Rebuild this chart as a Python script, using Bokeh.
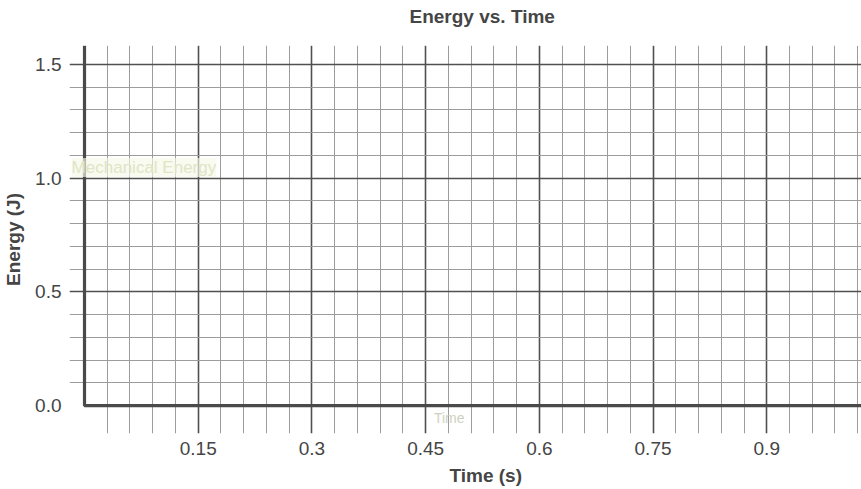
from bokeh.plotting import figure
from bokeh.models import Range1d, FixedTicker, Label, Title, LinearAxis
from bokeh.embed import file_html
from bokeh.resources import INLINE

# ---- chart content ----
title_text = "Energy vs. Time"
x_label = "Time (s)"
y_label = "Energy (J)"
x_ticks = [0.15, 0.3, 0.45, 0.6, 0.75, 0.9]
x_tick_labels = ["0.15", "0.3", "0.45", "0.6", "0.75", "0.9"]
y_ticks = [0.0, 0.5, 1.0, 1.5]
y_tick_labels = ["0.0", "0.5", "1.0", "1.5"]
faint_curve_label = "Mechanical Energy"
faint_axis_note = "Time"

# ---- view window ----
x_start, x_end = -0.0198, 1.025
y_start, y_end = -0.123, 1.583
x_minor_step, y_minor_step = 0.03, 0.1

FONT = "Liberation Sans"
TEXT = "#454545"

p = figure(width=861, height=489, output_backend="svg", toolbar_location=None,
           title=None,
           x_range=Range1d(x_start, x_end), y_range=Range1d(y_start, y_end),
           min_border_left=68, min_border_right=0, min_border_top=45,
           min_border_bottom=56)
p.outline_line_color = None
p.background_fill_color = "white"
p.border_fill_color = "white"

# graph-paper grid
x_major_grid = [t for t in x_ticks]
x_minor_grid = [round(i * x_minor_step, 4) for i in range(1, 35)
                if i % 5 != 0]
y_major_grid = [0.5, 1.0, 1.5]
y_minor_grid = [round(i * y_minor_step, 4) for i in range(1, 15) if i % 5 != 0]

p.xgrid.ticker = FixedTicker(ticks=x_major_grid, minor_ticks=x_minor_grid)
p.xgrid.grid_line_color = "#505050"
p.xgrid.grid_line_width = 1.6
p.xgrid.minor_grid_line_color = "#9c9c9c"
p.xgrid.minor_grid_line_width = 1

p.ygrid.ticker = FixedTicker(ticks=y_major_grid, minor_ticks=y_minor_grid)
p.ygrid.grid_line_color = "#505050"
p.ygrid.grid_line_width = 1.6
p.ygrid.minor_grid_line_color = "#9c9c9c"
p.ygrid.minor_grid_line_width = 1

# axes (labels only)
p.xaxis.ticker = FixedTicker(ticks=x_ticks)
p.xaxis.major_label_overrides = dict(zip(x_ticks, x_tick_labels))
p.yaxis.ticker = FixedTicker(ticks=y_ticks)
p.yaxis.major_label_overrides = dict(zip(y_ticks, y_tick_labels))
for ax in (p.xaxis[0], p.yaxis[0]):
    ax.axis_line_color = None
    ax.major_tick_line_color = None
    ax.minor_tick_line_color = None
    ax.major_tick_in = 0
    ax.major_tick_out = 0
    ax.major_label_standoff = 8
    ax.major_label_text_font = FONT
    ax.major_label_text_font_size = "19px"
    ax.major_label_text_color = TEXT

p.yaxis.axis_label = y_label
p.yaxis.axis_label_text_font = FONT
p.yaxis.axis_label_text_font_size = "19px"
p.yaxis.axis_label_text_font_style = "bold"
p.yaxis.axis_label_text_color = TEXT
p.yaxis.axis_label_standoff = 8

gap_tick = [1.02]  # one tick at the far right edge so the spacer axis has size


def gap(pixels):
    # white, label-less axis used only to reserve a strip of space
    return LinearAxis(ticker=FixedTicker(ticks=gap_tick), major_tick_out=pixels,
                      major_tick_in=0, axis_line_color="white",
                      axis_line_width=0.2, major_tick_line_color="white",
                      minor_tick_line_color=None, major_label_standoff=0,
                      major_label_text_color=None,
                      major_label_text_font_size="1px")


# title, lifted above a small gap next to the frame
p.add_layout(gap(12), "above")
p.add_layout(Title(text=title_text, align="left", offset=340,
                   vertical_align="top", standoff=10,
                   text_font=FONT, text_font_size="19px",
                   text_font_style="bold", text_color=TEXT), "above")

# x label below the axis, shifted right like the reference
p.add_layout(gap(5), "below")
p.add_layout(Title(text=x_label, align="left", offset=380, standoff=0,
                   text_font=FONT, text_font_size="19px",
                   text_font_style="bold", text_color=TEXT), "below")

# heavy L-shaped axes through the origin
p.line(x=[0, 0, x_end], y=[y_end, 0, 0], line_width=3.2, line_color="#4a4a4a")

# faint scanned-in annotations
p.add_layout(Label(x=-0.017, y=1.047, text=faint_curve_label, text_font=FONT,
                   text_font_size="17px", text_color="#e0e5c5",
                   text_baseline="middle", background_fill_color="#f6f8e8",
                   background_fill_alpha=0.65))
p.add_layout(Label(x=0.461, y=-0.057, text=faint_axis_note, text_font=FONT,
                   text_font_size="14px", text_color="#cdd2c0",
                   text_baseline="middle"))

open("out.html", "w").write(file_html(p, INLINE))
